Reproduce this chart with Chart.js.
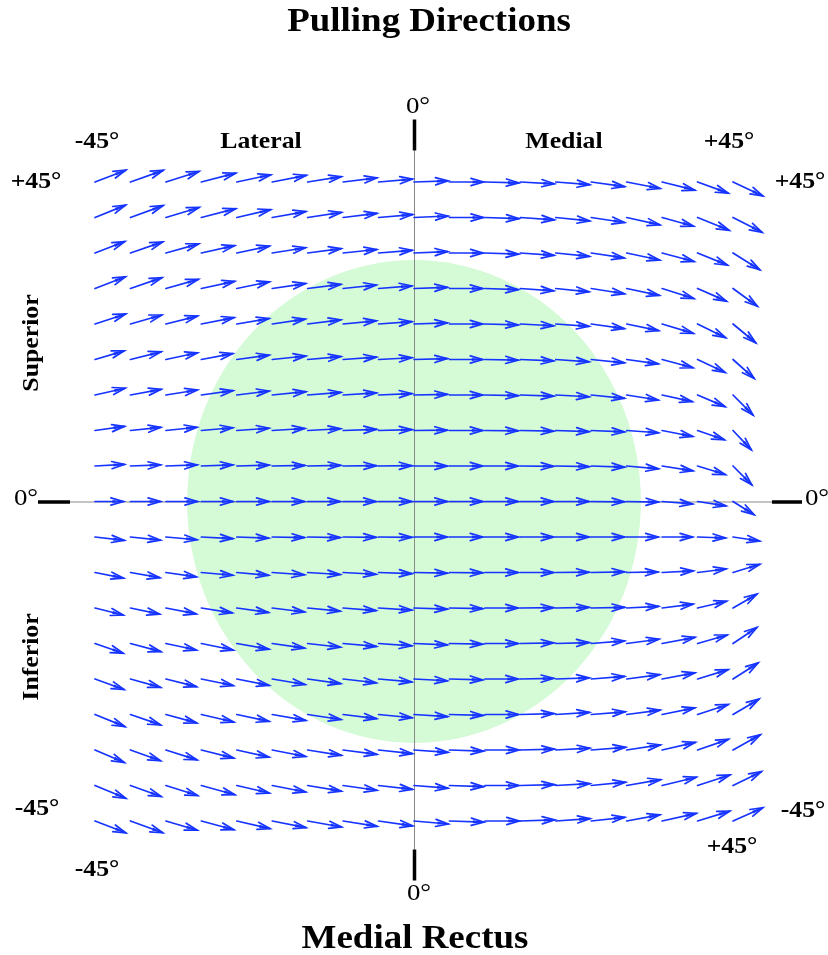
<!DOCTYPE html>
<html>
<head>
<meta charset="utf-8">
<title>Pulling Directions - Medial Rectus</title>
<script src="https://cdn.jsdelivr.net/npm/chart.js@4/dist/chart.umd.min.js"></script>
<style>
  html, body { margin: 0; padding: 0; background: #fff; }
  canvas { display: block; }
</style>
</head>
<body>
<canvas id="myChart" width="828" height="955"></canvas>
<script>
// gaze positions (deg): columns left -> right, rows top -> bottom
const gazeH = [-45, -40, -35, -30, -25, -20, -15, -10, -5, 0, 5, 10, 15, 20, 25, 30, 35, 40, 45];
const gazeV = [45, 40, 35, 30, 25, 20, 15, 10, 5, 0, -5, -10, -15, -20, -25, -30, -35, -40, -45];

// pulling direction of each arrow, degrees (positive = upward), one row per gazeV
const pullAngle = [
    [21, 19.5, 17.6, 14.4, 12, 11, 9, 7, 5, 2, 0, -1.5, -3, -4.5, -8, -11, -14, -20, -25],
    [22, 20, 16.7, 14.4, 13, 10, 8.5, 7, 5, 2.5, 0, -2, -4, -5.7, -8.5, -12.4, -15.5, -22, -27],
    [21, 19, 15.6, 12.4, 12, 9, 7.5, 6, 4.5, 2.5, 0, -2, -4, -5.7, -8.5, -12, -15, -22, -32],
    [21, 19, 15.6, 12.2, 11.6, 8.4, 7, 6, 4.5, 2, 0, -2, -4, -5.7, -9, -12, -17.5, -23.6, -36],
    [18, 16, 14, 11, 9.5, 8.4, 7, 5.5, 4, 2, 0, -1.5, -3, -4, -8, -11.7, -16.7, -26, -39.5],
    [16.5, 14, 12, 10.7, 7.6, 6, 5, 4, 3, 1.5, 0, -1, -2.5, -4, -5.7, -7.8, -15, -25, -41.7],
    [12.6, 10.5, 9, 7.8, 7, 5.6, 4.5, 3.5, 2.5, 1, 0, -1, -2, -3, -5.7, -9, -12.4, -23, -45],
    [8, 6, 6, 5, 4, 3.5, 3, 2, 1.5, 0.5, 0, -0.5, -1, -2, -2.5, -4, -11, -19, -46.5],
    [3, 2, 2, 2, 1.5, 1, 1, 0.5, 0.5, 0, 0, 0, -0.5, -1, -2, -5, -9, -17, -45],
    [0, 0, 0, 0, 0, 0, 0, 0, 0, 0, 0, 0, 0, 0, -0.5, -1, -4.5, -8.7, -32],
    [-6.5, -6, -5, -3, -2, -1, -1, -0.5, -0.5, 0, 0, 0, 0, 0, 0, 0, 0, -2, -8.5],
    [-11, -10, -8, -5, -5, -4, -3.5, -3, -2, -1, -0.5, 0, 0, 0.5, 1, 1, 3, 7, 17],
    [-14, -12, -11, -9, -8, -7, -5.5, -4.5, -3.5, -2, -1, 0, 0.5, 1, 1, 3, 7, 13, 30],
    [-19, -15, -12, -11.5, -10, -8, -6.5, -5, -4, -2.5, -1, 0, 1, 1.5, 4.5, 7.5, 10.5, 16, 33.7],
    [-20, -15.5, -14, -11.5, -11, -9.5, -8, -6.5, -5, -3, -1.5, 0, 1, 2, 4.5, 7.5, 10.5, 17, 32.6],
    [-22, -19, -15.3, -13, -12, -10, -8.5, -7, -5.5, -3.5, -1.5, 0, 1.5, 3.5, 4.5, 7.4, 11.5, 18, 30.5],
    [-23, -19.6, -17.5, -14, -12.6, -11, -9, -7.5, -6, -4, -2, 0, 1.5, 3, 4.5, 8.5, 13, 19, 29],
    [-22.5, -19.7, -17.5, -15.4, -13, -11, -9.5, -8, -6.5, -4.5, -2, 0, 1.5, 3, 5.5, 9.7, 13.6, 18, 26],
    [-21, -20, -16.4, -15, -13, -11, -10, -9, -8, -5, -2, 0, 2, 4, 6.3, 10.4, 12.6, 17, 24]
];

// arrow length in gaze degrees, same layout as pullAngle
const pullLength = [
    [4.65, 4.9, 4.9, 5.0, 4.9, 4.9, 4.8, 4.8, 4.8, 4.8, 4.8, 4.8, 4.8, 4.8, 4.75, 4.8, 4.75, 4.6, 4.65],
    [4.65, 4.9, 4.9, 5.0, 4.9, 4.8, 4.8, 4.8, 4.8, 4.8, 4.8, 4.8, 4.8, 4.8, 4.75, 4.8, 4.6, 4.8, 4.6],
    [4.5, 4.8, 4.8, 4.8, 4.7, 4.75, 4.75, 4.75, 4.75, 4.75, 4.75, 4.75, 4.75, 4.75, 4.7, 4.75, 4.65, 4.55, 4.45],
    [4.6, 4.7, 4.75, 4.8, 4.7, 4.75, 4.7, 4.7, 4.7, 4.7, 4.7, 4.7, 4.7, 4.7, 4.75, 4.7, 4.7, 4.45, 4.25],
    [4.55, 4.6, 4.6, 4.7, 4.6, 4.7, 4.7, 4.7, 4.7, 4.7, 4.7, 4.7, 4.7, 4.7, 4.7, 4.6, 4.6, 4.4, 4.15],
    [4.3, 4.45, 4.55, 4.5, 4.6, 4.75, 4.7, 4.7, 4.7, 4.7, 4.7, 4.7, 4.7, 4.7, 4.7, 4.5, 4.5, 4.3, 4.0],
    [4.35, 4.4, 4.5, 4.5, 4.6, 4.75, 4.7, 4.7, 4.7, 4.7, 4.7, 4.7, 4.7, 4.7, 4.7, 4.5, 4.35, 4.2, 4.0],
    [4.2, 4.3, 4.4, 4.45, 4.55, 4.6, 4.65, 4.7, 4.7, 4.7, 4.7, 4.7, 4.7, 4.7, 4.7, 4.5, 4.4, 4.0, 3.75],
    [4.15, 4.25, 4.4, 4.45, 4.55, 4.6, 4.65, 4.7, 4.7, 4.7, 4.7, 4.7, 4.7, 4.7, 4.7, 4.5, 4.4, 4.1, 3.75],
    [4.0, 4.25, 4.45, 4.45, 4.55, 4.55, 4.6, 4.65, 4.7, 4.7, 4.7, 4.7, 4.7, 4.7, 4.7, 4.5, 4.3, 4.05, 3.5],
    [4.15, 4.25, 4.4, 4.45, 4.5, 4.55, 4.6, 4.65, 4.7, 4.7, 4.7, 4.7, 4.7, 4.7, 4.7, 4.45, 4.3, 3.95, 3.8],
    [4.1, 4.2, 4.35, 4.45, 4.5, 4.55, 4.6, 4.65, 4.7, 4.7, 4.7, 4.7, 4.7, 4.7, 4.7, 4.4, 4.4, 4.05, 3.95],
    [4.1, 4.2, 4.35, 4.4, 4.5, 4.6, 4.6, 4.65, 4.7, 4.7, 4.7, 4.7, 4.7, 4.7, 4.7, 4.5, 4.4, 4.2, 3.9],
    [4.2, 4.45, 4.4, 4.6, 4.6, 4.6, 4.65, 4.7, 4.7, 4.7, 4.7, 4.7, 4.7, 4.7, 4.7, 4.6, 4.7, 4.35, 4.05],
    [4.35, 4.4, 4.45, 4.6, 4.65, 4.7, 4.7, 4.7, 4.7, 4.7, 4.7, 4.7, 4.7, 4.7, 4.7, 4.7, 4.7, 4.5, 4.2],
    [4.55, 4.5, 4.5, 4.7, 4.65, 4.8, 4.75, 4.75, 4.75, 4.75, 4.75, 4.75, 4.75, 4.75, 4.8, 4.75, 4.7, 4.55, 4.25],
    [4.5, 4.5, 4.6, 4.7, 4.65, 4.8, 4.8, 4.8, 4.8, 4.8, 4.8, 4.8, 4.8, 4.8, 4.85, 4.8, 4.8, 4.6, 4.4],
    [4.7, 4.6, 4.7, 4.9, 4.7, 4.8, 4.8, 4.8, 4.8, 4.8, 4.8, 4.8, 4.8, 4.8, 4.85, 4.85, 4.95, 4.8, 4.45],
    [4.65, 4.85, 4.6, 4.75, 4.8, 4.85, 4.85, 4.85, 4.85, 4.85, 4.85, 4.85, 4.85, 4.85, 4.75, 4.75, 4.95, 4.75, 4.6]
];

// green field (ellipse radii in gaze degrees)
const fieldRadiusH = 32;
const fieldRadiusV = 34;

const arrowColor = '#1634ff';
const serif = '"Liberation Serif", "DejaVu Serif", serif';

const points = [];
gazeV.forEach((v, r) => {
    gazeH.forEach((h, c) => {
        points.push({ x: h, y: v, a: pullAngle[r][c], l: pullLength[r][c] });
    });
});

function drawLabel(ctx, text, x, y, size, bold, rot) {
    ctx.save();
    ctx.translate(x, y);
    if (rot) ctx.rotate(rot);
    ctx.scale(1.12, 1);
    ctx.font = (bold ? 'bold ' : '') + size + 'px ' + serif;
    ctx.fillStyle = '#000';
    ctx.textAlign = 'center';
    ctx.textBaseline = 'middle';
    ctx.fillText(text, 0, 0);
    ctx.restore();
}

const backdrop = {
    id: 'backdrop',
    beforeDatasetsDraw(chart) {
        const { ctx, scales: { x, y } } = chart;
        const cx = x.getPixelForValue(0);
        const cy = y.getPixelForValue(0);
        const rx = x.getPixelForValue(fieldRadiusH) - cx;
        const ry = cy - y.getPixelForValue(fieldRadiusV);
        ctx.save();
        ctx.fillStyle = 'rgb(212,250,214)';
        ctx.beginPath();
        ctx.ellipse(cx, cy, rx, ry, 0, 0, Math.PI * 2);
        ctx.fill();

        // thin axis lines
        ctx.strokeStyle = '#8a8a8a';
        ctx.lineWidth = 1;
        ctx.beginPath();
        ctx.moveTo(cx + 0.5, cy - 351);
        ctx.lineTo(cx + 0.5, cy + 348);
        ctx.moveTo(cx - 344, cy + 0.5);
        ctx.lineTo(cx + 358, cy + 0.5);
        ctx.stroke();

        // thick end marks
        ctx.strokeStyle = '#000';
        ctx.lineWidth = 3.5;
        ctx.beginPath();
        ctx.moveTo(cx + 0.5, cy - 382);
        ctx.lineTo(cx + 0.5, cy - 351);
        ctx.moveTo(cx + 0.5, cy + 348);
        ctx.lineTo(cx + 0.5, cy + 379);
        ctx.moveTo(cx - 376, cy + 0.5);
        ctx.lineTo(cx - 344, cy + 0.5);
        ctx.moveTo(cx + 358, cy + 0.5);
        ctx.lineTo(cx + 388, cy + 0.5);
        ctx.stroke();
        ctx.restore();
    }
};

const arrows = {
    id: 'arrows',
    afterDatasetsDraw(chart) {
        const { ctx, scales: { x, y } } = chart;
        ctx.save();
        ctx.strokeStyle = arrowColor;
        ctx.fillStyle = arrowColor;
        ctx.lineWidth = 1.7;
        ctx.lineCap = 'round';
        chart.data.datasets[0].data.forEach(p => {
            const rad = p.a * Math.PI / 180;
            const x0 = x.getPixelForValue(p.x);
            const y0 = y.getPixelForValue(p.y);
            const x1 = x.getPixelForValue(p.x + p.l * Math.cos(rad));
            const y1 = y.getPixelForValue(p.y + p.l * Math.sin(rad));
            const ang = Math.atan2(y1 - y0, x1 - x0);

            ctx.beginPath();
            ctx.moveTo(x0, y0);
            ctx.lineTo(x1, y1);
            ctx.stroke();

            // open barbs
            const hl = 13, hw = 0.28;
            ctx.beginPath();
            ctx.moveTo(x1 - hl * Math.cos(ang - hw), y1 - hl * Math.sin(ang - hw));
            ctx.lineTo(x1, y1);
            ctx.lineTo(x1 - hl * Math.cos(ang + hw), y1 - hl * Math.sin(ang + hw));
            ctx.stroke();

            // solid core of the head
            const cl = 11, cw = 0.14;
            ctx.beginPath();
            ctx.moveTo(x1, y1);
            ctx.lineTo(x1 - cl * Math.cos(ang - cw), y1 - cl * Math.sin(ang - cw));
            ctx.lineTo(x1 - cl * Math.cos(ang + cw), y1 - cl * Math.sin(ang + cw));
            ctx.closePath();
            ctx.fill();
        });
        ctx.restore();
    }
};

const texts = {
    id: 'texts',
    afterDraw(chart) {
        const ctx = chart.ctx;
        drawLabel(ctx, 'Pulling Directions', 429, 22, 33, true);
        drawLabel(ctx, 'Medial Rectus', 415, 939, 33, true);

        drawLabel(ctx, '0°', 418, 107, 24, false);
        drawLabel(ctx, '0°', 419, 894, 24, false);
        drawLabel(ctx, '0°', 26, 499, 24, false);
        drawLabel(ctx, '0°', 817, 499, 24, false);

        drawLabel(ctx, '-45°', 97, 142, 23, true);
        drawLabel(ctx, 'Lateral', 261, 142, 23, true);
        drawLabel(ctx, 'Medial', 564, 142, 23, true);
        drawLabel(ctx, '+45°', 729, 142, 23, true);

        drawLabel(ctx, '+45°', 36, 182, 23, true);
        drawLabel(ctx, '+45°', 800, 182, 23, true);
        drawLabel(ctx, '-45°', 37, 809, 23, true);
        drawLabel(ctx, '-45°', 803, 811, 23, true);
        drawLabel(ctx, '+45°', 732, 847, 23, true);
        drawLabel(ctx, '-45°', 97, 870, 23, true);

        drawLabel(ctx, 'Superior', 32, 343, 23, true, -Math.PI / 2);
        drawLabel(ctx, 'Inferior', 32, 657, 23, true, -Math.PI / 2);
    }
};

const config = {
    type: 'scatter',
    data: {
        datasets: [
            {
                label: 'Pulling direction',
                data: points,
                pointRadius: 0,
                pointHoverRadius: 0,
            }
        ]
    },
    options: {
        responsive: false,
        animation: false,
        layout: { padding: { left: 95, right: 95, top: 182, bottom: 134 } },
        scales: {
            x: { type: 'linear', min: -45, max: 45, display: false },
            y: { type: 'linear', min: -45, max: 45, display: false }
        },
        plugins: {
            legend: { display: false },
            tooltip: { enabled: false }
        }
    },
    plugins: [backdrop, arrows, texts]
};

var myChart = new Chart(document.getElementById('myChart'), config);
</script>
</body>
</html>
